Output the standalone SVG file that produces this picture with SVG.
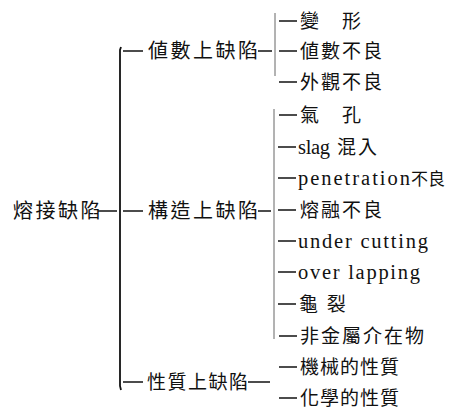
<svg xmlns="http://www.w3.org/2000/svg" width="451" height="412" viewBox="0 0 451 412">
<style>
.t{font-family:"Liberation Serif","Noto Sans CJK TC","Noto Sans CJK JP",serif;fill:#111;font-size:19px;letter-spacing:2px}
.r{font-size:20px;letter-spacing:2.5px}
.lat{font-size:20.5px;letter-spacing:0}
.ln{stroke:#111;stroke-width:1.5;fill:none}
.main{stroke:#111;stroke-width:1.8;fill:none}
.sub{stroke:#666;stroke-width:1;fill:none}
</style>
<rect width="451" height="412" fill="#fff"/>
<g id="connectors">
<line class="ln" x1="98" y1="211" x2="117" y2="211"/>
<path class="main" d="M121,47 L120,50 L120,386 L121,390"/>
<line class="ln" x1="123" y1="51" x2="143" y2="51"/>
<line class="ln" x1="123" y1="211" x2="143" y2="211"/>
<line class="ln" x1="123" y1="382" x2="143" y2="382"/>
<line class="ln" x1="258" y1="51" x2="272" y2="51"/>
<line class="ln" x1="258" y1="211" x2="271" y2="211"/>
<line class="ln" x1="248" y1="382" x2="270" y2="382"/>
<line class="sub" x1="275" y1="13" x2="275" y2="76"/>
<line class="sub" x1="274" y1="109" x2="274" y2="339"/>
<line class="ln" x1="279" y1="21" x2="297" y2="21"/>
<line class="ln" x1="279" y1="51" x2="297" y2="51"/>
<line class="ln" x1="279" y1="82" x2="297" y2="82"/>
<line class="ln" x1="279" y1="115" x2="297" y2="115"/>
<line class="ln" x1="278" y1="147" x2="296" y2="147"/>
<line class="ln" x1="278" y1="178" x2="296" y2="178"/>
<line class="ln" x1="278" y1="210" x2="296" y2="210"/>
<line class="ln" x1="278" y1="241" x2="296" y2="241"/>
<line class="ln" x1="278" y1="272" x2="296" y2="272"/>
<line class="ln" x1="278" y1="304" x2="296" y2="304"/>
<line class="ln" x1="279" y1="336" x2="297" y2="336"/>
<line class="ln" x1="279" y1="367" x2="297" y2="367"/>
<line class="ln" x1="279" y1="398" x2="297" y2="398"/>
</g>
<g id="root"><text class="t r" x="13" y="218">熔接缺陷</text></g>
<g id="n-valuedefect"><text class="t r" x="148" y="58">値數上缺陷</text></g>
<g id="n-structdefect"><text class="t r" x="148" y="218">構造上缺陷</text></g>
<g id="n-propdefect"><text class="t" x="147" y="389" style="letter-spacing:1.5px">性質上缺陷</text></g>
<g id="i-deform"><text class="t" x="300" y="28">變　形</text></g>
<g id="i-value"><text class="t" x="300" y="58">値數不良</text></g>
<g id="i-appear"><text class="t" x="300" y="89">外觀不良</text></g>
<g id="i-pore"><text class="t" x="300" y="122">氣　孔</text></g>
<g id="i-slag"><text class="t" x="298" y="154"><tspan class="lat" textLength="32" lengthAdjust="spacing">slag</tspan> <tspan x="337">混入</tspan></text></g>
<g id="i-pen"><text class="t" x="298" y="185"><tspan class="lat" textLength="112" lengthAdjust="spacing">penetration</tspan><tspan x="411" style="font-size:17px;letter-spacing:0">不良</tspan></text></g>
<g id="i-fusion"><text class="t" x="300" y="217">熔融不良</text></g>
<g id="i-under"><text class="t lat" x="298" y="248" textLength="130" lengthAdjust="spacing">under cutting</text></g>
<g id="i-over"><text class="t lat" x="298" y="279" textLength="122" lengthAdjust="spacing">over lapping</text></g>
<g id="i-crack"><text class="t" x="299" y="311">龜 裂</text></g>
<g id="i-inclusion"><text class="t" x="300" y="343">非金屬介在物</text></g>
<g id="i-mech"><text class="t" x="300" y="374" style="letter-spacing:1px">機械的性質</text></g>
<g id="i-chem"><text class="t" x="300" y="405" style="letter-spacing:1px">化學的性質</text></g>
</svg>
